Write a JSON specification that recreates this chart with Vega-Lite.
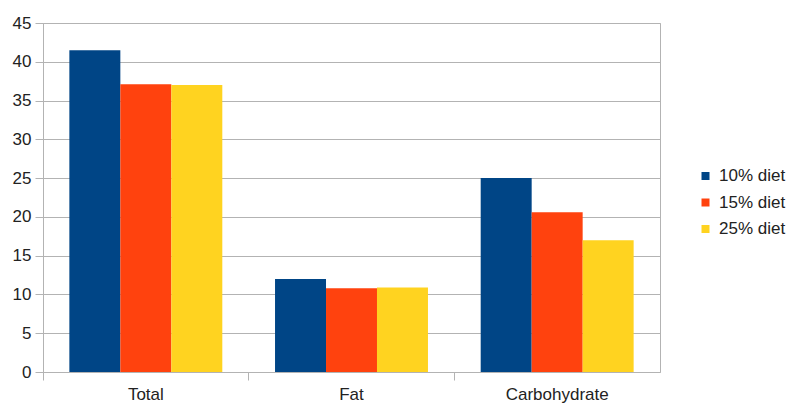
{
  "$schema": "https://vega.github.io/schema/vega-lite/v6.json",
  "autosize": "none",
  "width": 617,
  "height": 349,
  "padding": {"left": 43, "top": 23, "right": 128, "bottom": 31},
  "background": "white",
  "config": {
    "font": "Liberation Sans",
    "view": {"stroke": "#b3b3b3", "strokeWidth": 1},
    "axis": {
      "labelFont": "Liberation Sans",
      "labelFontSize": 17,
      "labelColor": "#222222",
      "domainColor": "#b3b3b3",
      "tickColor": "#b3b3b3",
      "gridColor": "#b3b3b3",
      "gridOpacity": 1,
      "tickSize": 8
    }
  },
  "data": {
    "values": [
      {"category": "Total", "diet": "10% diet", "value": 41.5},
      {"category": "Total", "diet": "15% diet", "value": 37.1},
      {"category": "Total", "diet": "25% diet", "value": 37.0},
      {"category": "Fat", "diet": "10% diet", "value": 12.0},
      {"category": "Fat", "diet": "15% diet", "value": 10.8},
      {"category": "Fat", "diet": "25% diet", "value": 10.9},
      {"category": "Carbohydrate", "diet": "10% diet", "value": 25.0},
      {"category": "Carbohydrate", "diet": "15% diet", "value": 20.6},
      {"category": "Carbohydrate", "diet": "25% diet", "value": 17.0}
    ]
  },
  "mark": {"type": "bar"},
  "encoding": {
    "x": {
      "field": "category",
      "type": "nominal",
      "sort": ["Total", "Fat", "Carbohydrate"],
      "scale": {"paddingInner": 0, "paddingOuter": 0},
      "axis": {
        "title": null,
        "labelAngle": 0,
        "labelPadding": 6,
        "bandPosition": 0,
        "domain": false,
        "ticks": true,
        "grid": false
      }
    },
    "xOffset": {"field": "diet", "type": "nominal", "scale": {"paddingInner": 0, "paddingOuter": 0.517}},
    "y": {
      "field": "value",
      "type": "quantitative",
      "scale": {"domain": [0, 45], "nice": false},
      "axis": {
        "title": null,
        "values": [0, 5, 10, 15, 20, 25, 30, 35, 40, 45],
        "labelPadding": 4,
        "domain": true,
        "grid": true
      }
    },
    "color": {
      "field": "diet",
      "type": "nominal",
      "scale": {
        "domain": ["10% diet", "15% diet", "25% diet"],
        "range": ["#004586", "#ff420e", "#ffd320"]
      },
      "legend": {
        "title": null,
        "orient": "none",
        "legendX": 654,
        "legendY": 144.5,
        "symbolType": "square",
        "symbolSize": 64,
        "symbolStrokeWidth": 0,
        "labelFont": "Liberation Sans",
        "labelFontSize": 17,
        "labelColor": "#222222",
        "labelOffset": 5,
        "rowPadding": 8.5
      }
    }
  }
}
